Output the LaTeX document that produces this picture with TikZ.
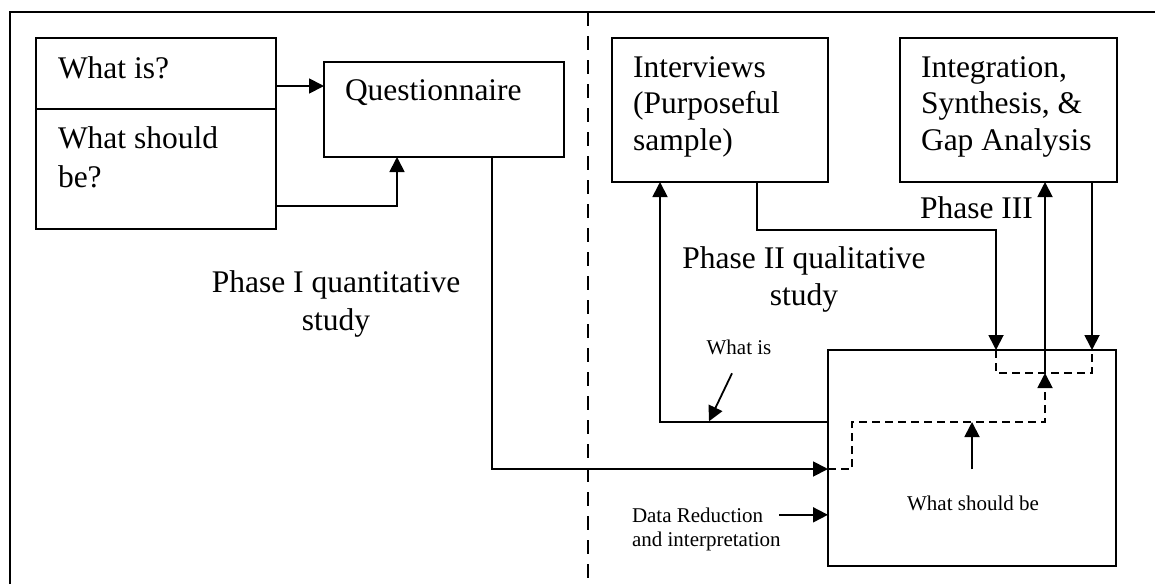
\documentclass[tikz,border=0pt]{standalone}
\usepackage{fontspec}
\setmainfont{Liberation Serif}
\usetikzlibrary{arrows.meta,calc}
\begin{document}
\begin{tikzpicture}[x=0.5pt,y=-0.5pt,
  conn/.style={line width=0.9pt},
  arr/.style={conn,-{Triangle[length=7.5pt,width=7.5pt]}},
  dsh/.style={conn,dash pattern=on 4pt off 2.5pt},
  divider/.style={conn,dash pattern=on 7pt off 5pt},
  box/.style={draw,line width=0.9pt,rectangle,inner sep=0pt,outer sep=0pt,anchor=north west},
  bigt/.style={font=\fontsize{15.75pt}{18.75pt}\selectfont,inner sep=0pt,outer sep=0pt},
  smallt/.style={font=\fontsize{10.5pt}{12pt}\selectfont,inner sep=0pt,outer sep=0pt}]
\useasboundingbox (0,0) rectangle (1155,584);
% frame and divider
\draw[conn] (10,584) -- (10,12) -- (1155,12);
\draw[divider] (588,12) -- (588,580);
% boxes
\node[box,minimum width=120pt,minimum height=35.5pt] (whatis) at (36,38) {};
\node[box,minimum width=120pt,minimum height=60pt] (whatshould) at (36,109) {};
\node[box,minimum width=120pt,minimum height=47.5pt] (quest) at (324,62) {};
\node[box,minimum width=108pt,minimum height=72pt] (interviews) at (612,38) {};
\node[box,minimum width=108.5pt,minimum height=72pt] (integ) at (900,38) {};
\node[box,minimum width=144pt,minimum height=108pt] (big) at (828,350) {};
% box texts
\node[bigt,anchor=base west] (t1) at (58,78) {What is?};
\node[bigt,anchor=base west] (t2) at (58,148) {What should};
\node[bigt,anchor=base west] (t3) at (58,187) {be?};
\node[bigt,anchor=base west] (t4) at (345,100) {Questionnaire};
\node[bigt,anchor=base west] (t5) at (633,77) {Interviews};
\node[bigt,anchor=base west] (t6) at (633,113) {(Purposeful};
\node[bigt,anchor=base west] (t7) at (633,150) {sample)};
\node[bigt,anchor=base west] (t8) at (921,77) {Integration,};
\node[bigt,anchor=base west] (t9) at (921,113) {Synthesis, \&};
\node[bigt,anchor=base west] (t10) at (921,150) {Gap Analysis};
% phase labels
\node[bigt,anchor=base] (ph1a) at (336,292) {Phase I quantitative};
\node[bigt,anchor=base] (ph1b) at (336,330) {study};
\node[bigt,anchor=base] (ph2a) at (804,268) {Phase II qualitative};
\node[bigt,anchor=base] (ph2b) at (804,305) {study};
\node[bigt,anchor=base west] (ph3) at (920,218) {Phase III};
% small labels
\node[smallt,anchor=base] (wis) at (739,354) {What is};
\node[smallt,anchor=base] (wsb) at (973,510) {What should be};
\node[smallt,anchor=base west] (dr1) at (632,522) {Data Reduction};
\node[smallt,anchor=base west] (dr2) at (632,546) {and interpretation};
% left connectors
\draw[arr] ($(whatis.north east)+(0,48)$) -- ($(quest.north west)+(0,24)$);
\draw[arr] ($(whatshould.south east)+(0,-23)$) -| ($(quest.south west)+(73,0)$);
\draw[arr] ($(quest.south east)+(-72,0)$) |- ($(big.north west)+(0,119)$);
% dashed paths inside big box
\coordinate (p1) at ($(big.north west)+(24,72)$);
\coordinate (p2) at ($(big.north west)+(217,72)$);
\coordinate (p3) at ($(big.north west)+(217,23)$);
\draw[dsh,-{Triangle[length=7.5pt,width=7.5pt]}] ($(big.north west)+(0,119)$) -| (p1) -- (p2) -- (p3);
\draw[arr] (p3) -- (p3 |- integ.south);
\draw[dsh] ($(big.north west)+(168,0)$) -- ++(0,23) -| ($(big.north west)+(264,0)$);
% right connectors
\draw[arr] ($(big.north west)+(0,72)$) -| ($(interviews.south west)+(48,0)$);
\draw[arr] ($(interviews.south west)+(145,0)$) -- ++(0,48) -| ($(big.north west)+(168,0)$);
\draw[arr] ($(integ.south west)+(192,0)$) coordinate (q) -- (q |- big.north);
% label arrows
\draw[arr] ($(wis.south)+(-7,19)$) -- ($(wis.south)+(-30,67)$);
\draw[arr] ($(wsb.north)+(-1,-26)$) coordinate (s) -- (s |- p1);
\draw[arr] ($(dr1.east)+(16,0)$) coordinate (r) -- (r -| big.west);
\end{tikzpicture}
\end{document}
